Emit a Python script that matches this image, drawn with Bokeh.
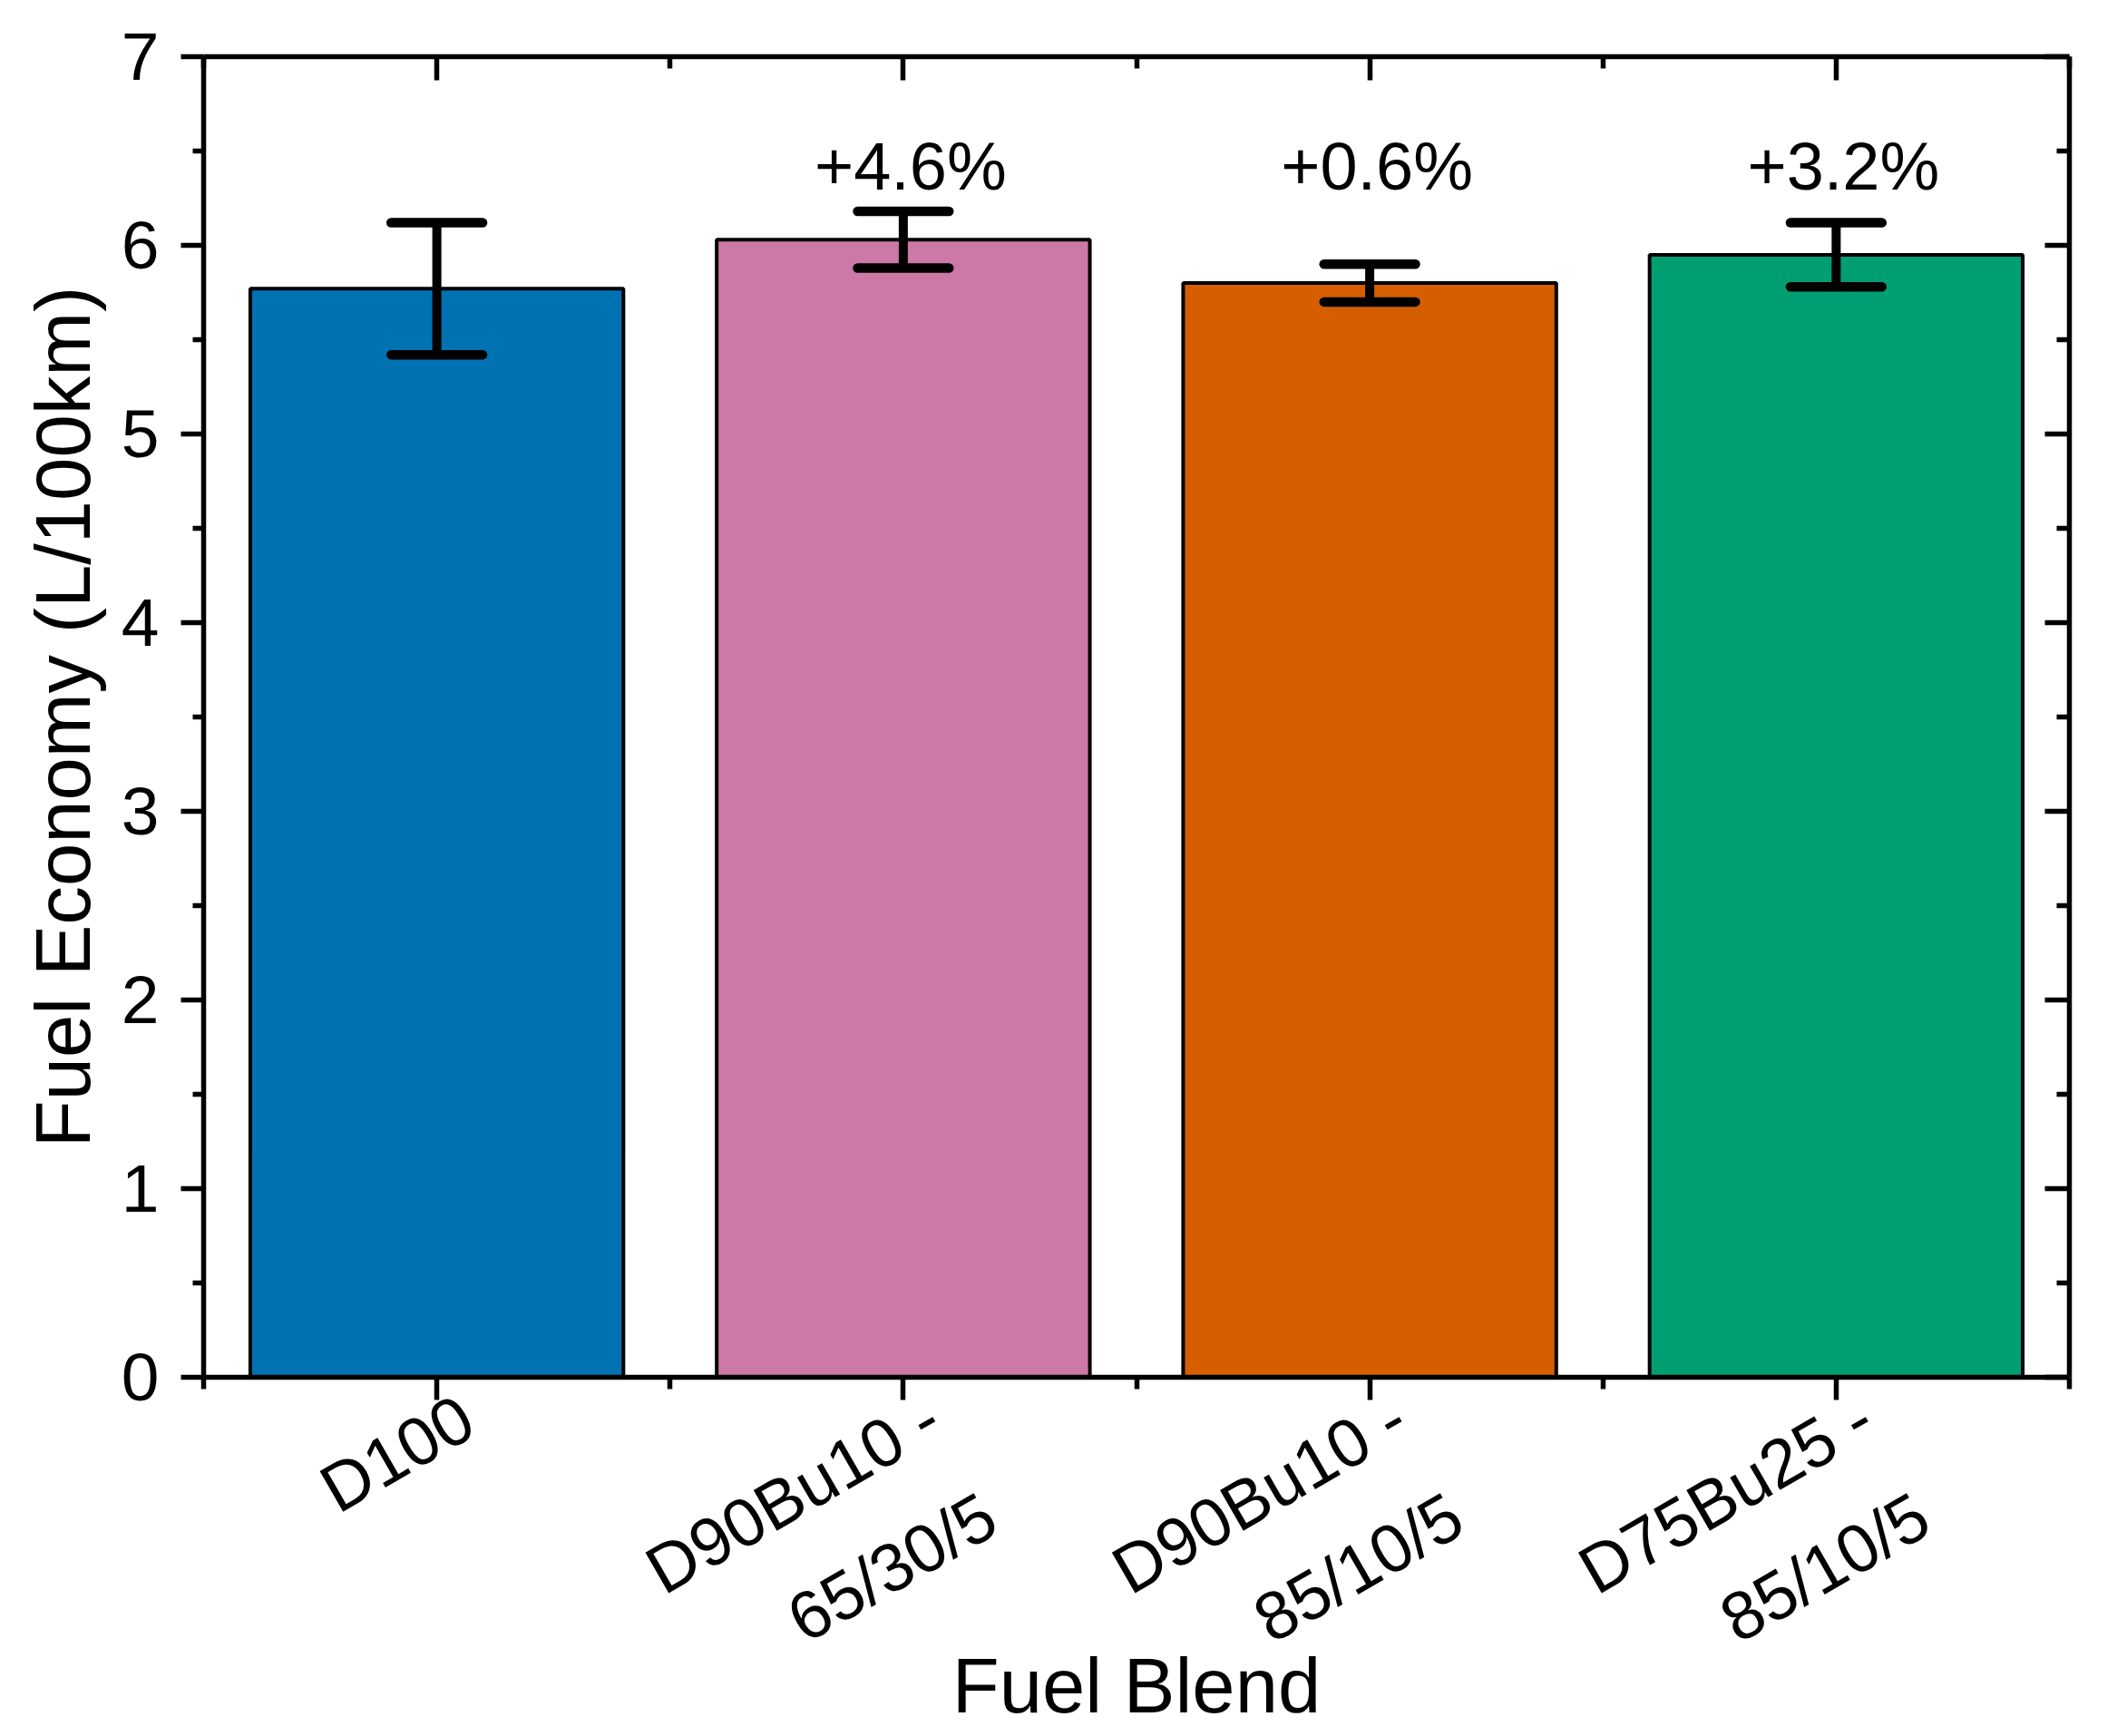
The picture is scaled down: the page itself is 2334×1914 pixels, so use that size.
import math
from bokeh.plotting import figure
from bokeh.models import Range1d, LinearAxis, FixedTicker, ColumnDataSource
from bokeh.core.properties import value
from bokeh.embed import file_html
from bokeh.resources import INLINE

categories = ["D100", "D90Bu10 -\n65/30/5", "D90Bu10 -\n85/10/5", "D75Bu25 -\n85/10/5"]
values = [5.77, 6.03, 5.80, 5.95]
errors = [0.35, 0.15, 0.10, 0.17]
colors = ["#0072B2", "#CC79A7", "#D55E00", "#009E73"]
pct_labels = ["", "+4.6%", "+0.6%", "+3.2%"]
pct_y = [6.30, 6.30, 6.30, 6.30]
y_ticks = [0, 1, 2, 3, 4, 5, 6, 7]

FONT = "Liberation Sans"
xs = list(range(len(categories)))

p = figure(width=2318, height=1898, output_backend="svg", toolbar_location=None,
           x_range=Range1d(-0.5, 3.5), y_range=Range1d(0, 7),
           min_border_left=224, min_border_right=37, min_border_top=62, min_border_bottom=380,
           x_axis_type=None, y_axis_type=None)
p.frame_width = 2057
p.frame_height = 1456
p.grid.visible = False
p.outline_line_color = None
p.background_fill_color = "white"

# shifted copy of the category range: the rotated tick labels sit right of their ticks
LABEL_SHIFT = 0.126
p.extra_x_ranges = {"lab": Range1d(-0.5 - LABEL_SHIFT, 3.5 - LABEL_SHIFT)}

src = ColumnDataSource(dict(x=xs, top=values, color=colors, err=errors,
                            lo=[v - e for v, e in zip(values, errors)],
                            hi=[v + e for v, e in zip(values, errors)]))
p.vbar(x="x", top="top", bottom=0, width=0.8, fill_color="color",
       line_color="black", line_width=4, source=src)

cap = 0.098
p.segment(x0="x", x1="x", y0="lo", y1="hi", line_color="black", line_width=10, source=src)
p.segment(x0=[x - cap for x in xs], x1=[x + cap for x in xs], y0=src.data["hi"], y1=src.data["hi"],
          line_color="black", line_width=10.5, line_cap="round")
p.segment(x0=[x - cap for x in xs], x1=[x + cap for x in xs], y0=src.data["lo"], y1=src.data["lo"],
          line_color="black", line_width=10.5, line_cap="round")

p.text(x=xs[1:], y=pct_y[1:], text=pct_labels[1:], text_font=value(FONT), text_font_size="74px",
       text_align="center", text_baseline="alphabetic", text_color="black",
       x_offset=8, y_offset=-25)

def style(ax, labels=True):
    ax.axis_line_width = 5.5
    ax.major_tick_line_width = 5.5
    ax.minor_tick_line_width = 5.5
    ax.axis_line_color = "black"
    ax.major_tick_line_color = "black"
    ax.minor_tick_line_color = "black"
    ax.major_label_text_font = FONT
    ax.major_label_text_font_size = "75px"
    ax.major_label_text_color = "black"
    ax.axis_label_text_font = FONT
    ax.axis_label_text_font_size = "85px"
    ax.axis_label_text_font_style = "normal"
    ax.axis_label_text_color = "black"
    if not labels:
        ax.major_label_text_font_size = "0px"
        ax.major_label_standoff = 0

xticker = FixedTicker(ticks=xs, minor_ticks=[-0.5, 0.5, 1.5, 2.5, 3.5])
yticker = FixedTicker(ticks=y_ticks, minor_ticks=[t + 0.5 for t in y_ticks[:-1]])

# bottom axis: line and ticks only
xb = LinearAxis(ticker=xticker, major_label_overrides={i: "" for i in xs})
style(xb, labels=False)
xb.major_tick_out = 25; xb.major_tick_in = 0
xb.minor_tick_out = 13; xb.minor_tick_in = 0
p.add_layout(xb, "below")

# category labels (rotated 30 degrees, two lines) and the axis title
label_text = {i: (c if "\n" in c else c + "\n ") for i, c in enumerate(categories)}
xl = LinearAxis(ticker=FixedTicker(ticks=xs, minor_ticks=[]), x_range_name="lab",
                axis_label="Fuel Blend", major_label_overrides=label_text)
style(xl)
xl.axis_line_color = None
xl.major_tick_out = 0; xl.major_tick_in = 0
xl.minor_tick_out = 0; xl.minor_tick_in = 0
xl.major_label_orientation = math.pi / 6
xl.major_label_text_line_height = 1.48
xl.major_label_standoff = 68
xl.axis_label_standoff = -163
p.add_layout(xl, "below")

xt = LinearAxis(ticker=xticker, major_label_overrides={i: "" for i in xs})
style(xt, labels=False)
xt.major_tick_out = 0; xt.major_tick_in = 26
xt.minor_tick_out = 0; xt.minor_tick_in = 13
p.add_layout(xt, "above")

yl = LinearAxis(ticker=yticker, axis_label="Fuel Economy (L/100km)")
style(yl)
yl.major_tick_out = 25; yl.major_tick_in = 0
yl.minor_tick_out = 12; yl.minor_tick_in = 0
yl.major_label_standoff = 24
yl.axis_label_standoff = 14
p.add_layout(yl, "left")

yr = LinearAxis(ticker=yticker, major_label_overrides={t: "" for t in y_ticks})
style(yr, labels=False)
yr.major_tick_out = 0; yr.major_tick_in = 27
yr.minor_tick_out = 0; yr.minor_tick_in = 14
p.add_layout(yr, "right")

open("out.html", "w").write(file_html(p, INLINE))
